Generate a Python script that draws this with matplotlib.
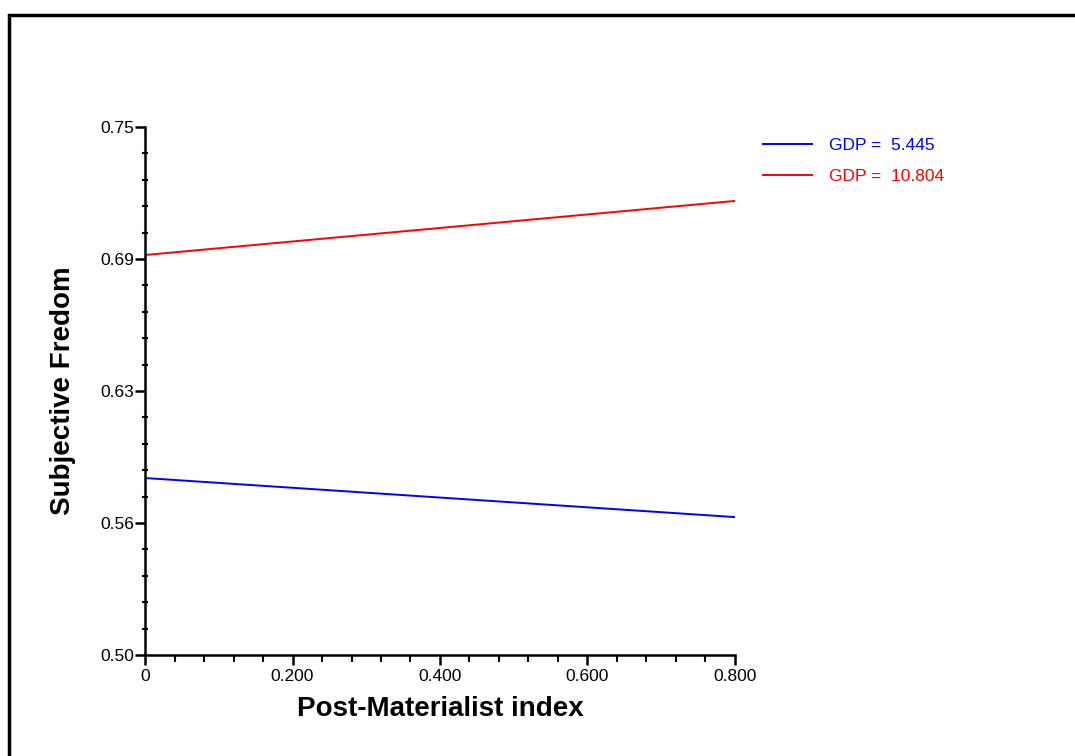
import matplotlib
matplotlib.use("Agg")
import matplotlib.pyplot as plt
from matplotlib.ticker import FixedLocator, MultipleLocator
from matplotlib.patches import Rectangle

plt.rcParams["font.family"] = ["Liberation Sans", "DejaVu Sans"]

# simple slopes: subjective freedom vs post-materialist index at two GDP levels
x_vals = [0.0, 0.8]
series_labels = ["GDP =  5.445", "GDP =  10.804"]
series_values = [
    [0.5838, 0.5653],
    [0.6894, 0.7150],
]
series_colors = ["#0000ff", "#ff0000"]

y_ticks = [0.50, 0.5625, 0.625, 0.6875, 0.75]
y_tick_labels = ["0.50", "0.56", "0.63", "0.69", "0.75"]
x_ticks = [0.0, 0.2, 0.4, 0.6, 0.8]
x_tick_labels = ["0", "0.200", "0.400", "0.600", "0.800"]

fig = plt.figure(figsize=(10.75, 7.56), dpi=100)
ax = fig.add_axes([0.1349, 0.1336, 0.5488, 0.6984])

for vals, lab, col in zip(series_values, series_labels, series_colors):
    ax.plot(x_vals, vals, color=col, lw=1.4, label=lab)

ax.set_xlim(0, 0.8)
ax.set_ylim(0.50, 0.75)
ax.xaxis.set_major_locator(FixedLocator(x_ticks))
ax.set_xticklabels(x_tick_labels)
ax.yaxis.set_major_locator(FixedLocator(y_ticks))
ax.set_yticklabels(y_tick_labels)
ax.xaxis.set_minor_locator(MultipleLocator(0.04))
ax.yaxis.set_minor_locator(MultipleLocator(0.0125))

for s in ["top", "right"]:
    ax.spines[s].set_visible(False)
for s in ["left", "bottom"]:
    ax.spines[s].set_linewidth(1.8)

ax.tick_params(axis="both", which="major", direction="out", length=7, width=1.8,
               labelsize=12.5, colors="black")
ax.tick_params(axis="y", which="major", pad=1)
ax.tick_params(axis="x", which="major", pad=3)
ax.tick_params(axis="y", which="minor", direction="inout", length=5, width=1.5)
ax.tick_params(axis="x", which="minor", direction="out", length=5, width=1.5)

ax.set_xlabel("Post-Materialist index", fontsize=20, fontweight="bold", labelpad=9)
ax.set_ylabel("Subjective Fredom", fontsize=20, fontweight="bold", labelpad=17)

leg = ax.legend(loc="upper left", bbox_to_anchor=(0.6953, 0.8386),
                bbox_transform=fig.transFigure, frameon=False, fontsize=12.5,
                handlelength=2.8, handletextpad=1.0, labelspacing=0.95,
                labelcolor="linecolor")

# outer frame (runs off the right and bottom edges)
fig.add_artist(Rectangle((0.0084, -0.05), 1.2, 1.03, transform=fig.transFigure,
                         fill=False, edgecolor="black", linewidth=2.5))

fig.savefig("out.png", dpi=100)
